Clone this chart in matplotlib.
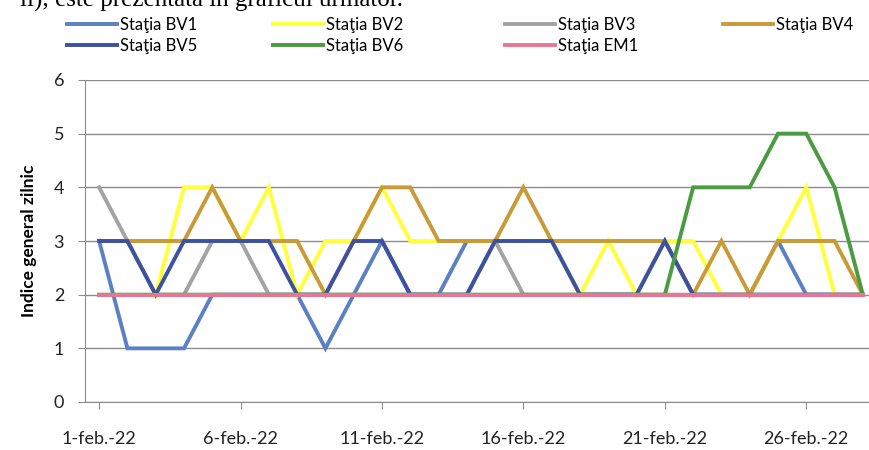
import numpy as np
import matplotlib
matplotlib.use("Agg")
import matplotlib.pyplot as plt

plt.rcParams['font.family'] = ['Lato', 'DejaVu Sans']

# daily values, 1-feb-22 .. 28-feb-22
days = list(range(1, 29))
bv1 = [3, 1, 1, 1, 2, 2, 2, 2, 1, 2, 3, 2, 2, 3, 3, 3, 3, 2, 2, 2, 3, 2, 2, 2, 3, 2, 2, 2]
bv2 = [3, 3, 2, 4, 4, 3, 4, 2, 3, 3, 4, 3, 3, 3, 3, 3, 3, 2, 3, 2, 3, 3, 2, 2, 3, 4, 2, 2]
bv3 = [4, 3, 2, 2, 3, 3, 2, 2, 2, 2, 2, 2, 2, 2, 3, 2, 2, 2, 2, 2, 2, 2, 2, 2, 2, 2, 2, 2]
bv4 = [3, 3, 3, 3, 4, 3, 3, 3, 2, 3, 4, 4, 3, 3, 3, 4, 3, 3, 3, 3, 3, 2, 3, 2, 3, 3, 3, 2]
bv5 = [3, 3, 2, 3, 3, 3, 3, 2, 2, 3, 3, 2, 2, 2, 3, 3, 3, 2, 2, 2, 3, 2, 2, 2, 2, 2, 2, 2]
bv6 = [2, 2, 2, 2, 2, 2, 2, 2, 2, 2, 2, 2, 2, 2, 2, 2, 2, 2, 2, 2, 2, 4, 4, 4, 5, 5, 4, 2]
em1 = [2] * 28

series = [("Staţia BV1", bv1, "#5b80c4"),
          ("Staţia BV2", bv2, "#ffff3a"),
          ("Staţia BV3", bv3, "#a3a3a3"),
          ("Staţia BV4", bv4, "#c89a38"),
          ("Staţia BV5", bv5, "#3d51a3"),
          ("Staţia BV6", bv6, "#4c9a42"),
          ("Staţia EM1", em1, "#ea7592")]

tick_days = [1, 6, 11, 16, 21, 26]
tick_labels = [f"{d}-feb.-22" for d in tick_days]

fig = plt.figure(figsize=(8.69, 4.5), dpi=100)
ax = fig.add_axes([85 / 869, 48 / 450, 792 / 869, 322 / 450])

lines = {}
for name, vals, col in series:
    ln, = ax.plot(days, vals, color=col, lw=2.8, solid_joinstyle='miter', label=name)
    lines[name] = ln

ax.set_xlim(0.5, 28.5)
ax.set_ylim(0, 6)
ax.set_yticks(range(0, 7))
ax.set_xticks(tick_days)
ax.set_xticklabels(tick_labels)
ax.grid(axis='y', color='#8c8c8c', lw=1)
ax.set_axisbelow(True)
for s in ['top', 'right']:
    ax.spines[s].set_visible(False)
for s in ['left', 'bottom']:
    ax.spines[s].set_color('#8c8c8c')
ax.tick_params(axis='both', colors='#8c8c8c', labelcolor='#222222', labelsize=13, length=5)
ax.tick_params(axis='x', pad=16)
ax.tick_params(axis='y', pad=10)
ax.set_ylabel("Indice general zilnic", fontsize=12.5, fontweight='bold', labelpad=12)

# legend: four columns, placed one by one (uneven spacing as in the original)
legend_cols = [(["Staţia BV1", "Staţia BV5"], 52),
               (["Staţia BV2", "Staţia BV6"], 258),
               (["Staţia BV3", "Staţia EM1"], 490),
               (["Staţia BV4"], 708)]
for names, xpix in legend_cols:
    fig.legend([lines[n] for n in names], names, loc='upper left',
               bbox_to_anchor=(xpix / 869, 1 - 2 / 450), frameon=False,
               fontsize=12, handlelength=3.0, handletextpad=0.2,
               labelspacing=0.3)

# caption text from the scanned page, cut off at the top edge
fig.text(20 / 869, 1 - 7 / 450, "ii), este prezentată în graficul următor.",
         fontsize=18, family='Liberation Serif', va='baseline', ha='left')

fig.savefig("out.png", dpi=100)
